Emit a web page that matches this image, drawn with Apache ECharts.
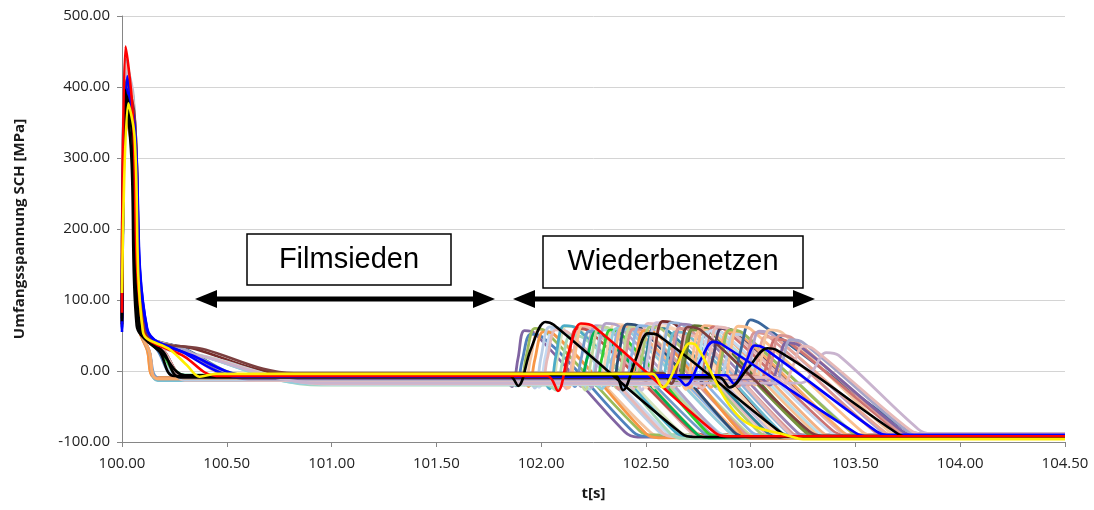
<!DOCTYPE html>
<html>
<head>
<meta charset="utf-8">
<script src="https://cdn.jsdelivr.net/npm/echarts@6/dist/echarts.min.js"></script>
<style>
html,body{margin:0;padding:0;background:#fff;}
#c{width:1094px;height:510px;}
</style>
</head>
<body>
<div id="c"></div>
<script>
// ---- axis ticks ----
const xTicks = [100.0, 100.5, 101.0, 101.5, 102.0, 102.5, 103.0, 103.5, 104.0, 104.5];
const yTicks = [-100, 0, 100, 200, 300, 400, 500];

// ---- curves: [t (s), Umfangsspannung (MPa)] ----
const r01 = [[100,66],[100.015,398],[100.045,352],[100.085,63],[100.13,27],[100.17,-11],[101.82,-11],[101.86,-22],[101.89,18],[101.92,57],[101.97,53],[102.4,-86],[102.46,-93],[104.5,-93]];
const r02 = [[100,72],[100.02,425],[100.05,372],[100.09,60],[100.17,29],[100.26,-8],[101.84,-8],[101.88,-21],[101.91,15],[101.95,52],[102.0,49],[102.44,-86],[102.5,-92],[104.5,-92]];
const r03 = [[100,80],[100.02,380],[100.055,330],[100.1,58],[100.3,31],[100.6,-7],[101.86,-7],[101.9,-18],[101.93,22],[101.97,60],[102.02,56],[102.47,-84],[102.53,-90],[104.5,-90]];
const r04 = [[100,68],[100.015,360],[100.045,318],[100.08,61],[100.12,30],[100.16,-9],[101.9,-9],[101.94,-22],[101.97,16],[102.01,55],[102.06,52],[102.5,-88],[102.56,-94],[104.5,-94]];
const r05 = [[100,75],[100.02,432],[100.05,385],[100.09,61],[100.18,28],[100.28,-12],[101.93,-12],[101.97,-24],[102.0,20],[102.04,62],[102.1,58],[102.56,-85],[102.62,-91],[104.5,-91]];
const r06 = [[100,70],[100.02,415],[100.055,360],[100.1,59],[100.28,30],[100.55,-9],[101.96,-9],[102.0,-20],[102.03,18],[102.07,58],[102.13,54],[102.58,-87],[102.64,-93],[104.5,-93]];
const r07 = [[100,62],[100.015,440],[100.045,392],[100.085,62],[100.13,26],[100.17,-13],[102.0,-13],[102.04,-25],[102.07,20],[102.11,64],[102.17,60],[102.64,-86],[102.7,-92],[104.5,-92]];
const r08 = [[100,78],[100.02,390],[100.05,340],[100.1,57],[100.4,20],[100.95,-20],[102.03,-20],[102.07,-27],[102.1,10],[102.14,50],[102.2,47],[102.62,-89],[102.68,-95],[104.5,-95]];
const r09 = [[100,85],[100.02,405],[100.05,355],[100.09,60],[100.2,27],[100.3,-8],[102.06,-8],[102.1,-20],[102.13,18],[102.17,60],[102.23,56],[102.72,-84],[102.78,-90],[104.5,-90]];
const r10 = [[100,72],[100.02,420],[100.055,370],[100.1,59],[100.3,30],[100.6,-10],[102.09,-10],[102.13,-24],[102.16,20],[102.2,65],[102.26,61],[102.74,-87],[102.8,-93],[104.5,-93]];
const r11 = [[100,64],[100.015,375],[100.045,330],[100.085,62],[100.13,28],[100.18,-10],[102.12,-10],[102.16,-22],[102.19,16],[102.23,56],[102.29,52],[102.77,-86],[102.83,-92],[104.5,-92]];
const r12 = [[100,70],[100.02,385],[100.05,345],[100.09,61],[100.2,25],[100.3,-6],[102.14,-6],[102.18,-18],[102.22,18],[102.26,55],[102.3,50],[102.74,-88],[102.8,-94],[104.5,-94]];
const r13 = [[100,76],[100.02,410],[100.055,365],[100.1,58],[100.3,29],[100.65,-13],[102.17,-13],[102.21,-27],[102.24,18],[102.28,62],[102.34,58],[102.82,-85],[102.88,-91],[104.5,-91]];
const r14 = [[100,68],[100.02,428],[100.05,380],[100.09,60],[100.2,27],[100.3,-11],[102.2,-11],[102.24,-23],[102.27,22],[102.31,67],[102.37,63],[102.84,-87],[102.9,-93],[104.5,-93]];
const r15 = [[100,74],[100.02,400],[100.05,350],[100.09,61],[100.19,26],[100.29,-9],[102.22,-9],[102.26,-20],[102.29,18],[102.33,58],[102.38,53],[102.79,-86],[102.85,-92],[104.5,-92]];
const r16 = [[100,82],[100.02,436],[100.05,388],[100.1,57],[100.42,18],[100.9,-18],[102.25,-18],[102.29,-25],[102.32,16],[102.36,60],[102.42,56],[102.89,-84],[102.95,-90],[104.5,-90]];
const r17 = [[100,70],[100.02,418],[100.055,372],[100.1,59],[100.3,30],[100.6,-11],[102.28,-11],[102.32,-22],[102.35,20],[102.39,63],[102.45,59],[102.94,-88],[103.0,-94],[104.5,-94]];
const r18 = [[100,66],[100.02,395],[100.05,350],[100.09,60],[100.2,28],[100.3,-9],[102.3,-9],[102.34,-20],[102.37,22],[102.41,66],[102.47,62],[102.92,-86],[102.98,-92],[104.5,-92]];
const r19 = [[100,63],[100.015,412],[100.045,366],[100.085,62],[100.13,28],[100.17,-12],[102.33,-12],[102.37,-26],[102.4,16],[102.44,59],[102.5,55],[102.97,-87],[103.03,-93],[104.5,-93]];
const r20 = [[100,78],[100.02,424],[100.055,378],[100.1,58],[100.3,31],[100.62,-10],[102.36,-10],[102.4,-24],[102.43,20],[102.47,64],[102.53,60],[103.0,-85],[103.06,-91],[104.5,-91]];
const r21 = [[100,66],[100.015,368],[100.045,322],[100.08,62],[100.12,30],[100.165,-10],[102.38,-10],[102.42,-20],[102.45,15],[102.49,57],[102.55,53],[102.96,-89],[103.02,-95],[104.5,-95]];
const r22 = [[100,71],[100.02,408],[100.05,362],[100.09,60],[100.2,27],[100.3,-12],[102.41,-12],[102.45,-22],[102.48,18],[102.52,62],[102.58,58],[103.04,-86],[103.1,-92],[104.5,-92]];
const r23 = [[100,74],[100.02,432],[100.055,386],[100.1,59],[100.3,30],[100.6,-13],[102.44,-13],[102.48,-27],[102.51,22],[102.55,68],[102.61,64],[103.09,-84],[103.15,-90],[104.5,-90]];
const r24 = [[100,80],[100.02,402],[100.06,355],[100.11,56],[100.35,31],[100.8,-4],[102.47,-4],[102.51,-20],[102.54,25],[102.58,70],[102.64,66],[103.14,-87],[103.2,-93],[104.5,-93]];
const r25 = [[100,69],[100.02,415],[100.05,368],[100.09,60],[100.2,28],[100.3,-11],[102.5,-11],[102.54,-24],[102.57,18],[102.61,60],[102.67,56],[103.12,-88],[103.18,-94],[104.5,-94]];
const r26 = [[100,64],[100.015,420],[100.045,374],[100.085,62],[100.13,27],[100.17,-12],[102.53,-12],[102.57,-22],[102.6,14],[102.64,55],[102.7,51],[103.14,-85],[103.2,-91],[104.5,-91]];
const r27 = [[100,76],[100.02,398],[100.055,352],[100.1,58],[100.3,29],[100.58,-10],[102.56,-10],[102.6,-25],[102.63,20],[102.67,66],[102.73,62],[103.22,-86],[103.28,-92],[104.5,-92]];
const r28 = [[100,72],[100.02,426],[100.05,380],[100.09,61],[100.2,27],[100.3,-13],[102.59,-13],[102.63,-23],[102.66,12],[102.7,50],[102.76,46],[103.19,-89],[103.25,-95],[104.5,-95]];
const r29 = [[100,68],[100.02,390],[100.05,342],[100.09,60],[100.2,26],[100.3,-8],[102.62,-8],[102.66,-20],[102.69,20],[102.73,64],[102.79,60],[103.27,-87],[103.33,-93],[104.5,-93]];
const r30 = [[100,74],[100.02,410],[100.055,364],[100.1,59],[100.3,30],[100.6,-12],[102.65,-12],[102.69,-26],[102.72,16],[102.76,58],[102.82,54],[103.3,-85],[103.36,-91],[104.5,-91]];
const r31 = [[100,84],[100.02,430],[100.05,384],[100.1,57],[100.45,17],[101.0,-19],[102.68,-19],[102.72,-22],[102.75,14],[102.79,55],[102.85,51],[103.32,-86],[103.38,-92],[104.5,-92]];
const r32 = [[100,70],[100.02,418],[100.05,372],[100.09,60],[100.2,28],[100.3,-10],[102.71,-10],[102.75,-24],[102.78,18],[102.82,62],[102.88,58],[103.39,-84],[103.45,-90],[104.5,-90]];
const r33 = [[100,66],[100.02,386],[100.055,340],[100.1,58],[100.3,30],[100.6,-9],[102.74,-9],[102.78,-20],[102.82,18],[102.86,60],[102.92,56],[103.44,-88],[103.5,-94],[104.5,-94]];
const r34 = [[100,65],[100.015,404],[100.045,358],[100.085,62],[100.13,28],[100.17,-11],[102.77,-11],[102.81,-23],[102.85,16],[102.89,56],[102.95,52],[103.44,-86],[103.5,-92],[104.5,-92]];
const r35 = [[100,73],[100.02,422],[100.05,376],[100.09,60],[100.2,27],[100.3,-12],[102.8,-12],[102.84,-25],[102.88,12],[102.92,52],[102.98,48],[103.49,-87],[103.55,-93],[104.5,-93]];
const r36 = [[100,78],[100.02,412],[100.055,366],[100.1,59],[100.3,31],[100.6,-8],[102.88,-8],[102.91,-15],[102.95,26],[103.0,72],[103.05,66],[103.74,-83],[103.8,-88],[104.5,-88]];
const r37 = [[100,67],[100.02,400],[100.05,354],[100.09,60],[100.2,27],[100.3,-10],[102.9,-10],[102.94,-22],[102.98,14],[103.02,54],[103.08,50],[103.59,-85],[103.65,-91],[104.5,-91]];
const r38 = [[100,75],[100.02,416],[100.055,370],[100.1,59],[100.3,30],[100.6,-9],[102.95,-9],[102.99,-20],[103.03,12],[103.07,48],[103.13,44],[103.64,-86],[103.7,-92],[104.5,-92]];
const r39 = [[100,71],[100.02,394],[100.05,348],[100.09,60],[100.2,28],[100.3,-7],[103.0,-7],[103.04,-18],[103.08,12],[103.12,45],[103.18,41],[103.69,-83],[103.75,-89],[104.5,-89]];
const r40 = [[100,69],[100.02,406],[100.055,360],[100.1,58],[100.3,29],[100.6,-11],[103.05,-11],[103.09,-20],[103.13,8],[103.17,40],[103.23,36],[103.72,-84],[103.78,-90],[104.5,-90]];
const r41 = [[100,80],[100.02,420],[100.05,374],[100.1,57],[100.42,18],[100.95,-17],[103.22,-17],[103.26,-15],[103.3,2],[103.36,26],[103.42,22],[103.8,-82],[103.86,-88],[104.5,-88]];
const r42 = [[100,70],[100.02,410],[100.05,364],[100.09,60],[100.2,27],[100.3,-9],[103.12,-9],[103.16,-18],[103.2,6],[103.25,35],[103.3,31],[103.76,-83],[103.82,-89],[104.5,-89]];
const p01 = [[100,67],[100.015,415],[100.045,368],[100.085,62],[100.13,27],[100.17,-10],[101.88,-10],[101.92,-20],[101.95,18],[101.99,58],[102.05,54],[102.52,-86],[102.58,-92],[104.5,-92]];
const p02 = [[100,73],[100.02,430],[100.05,382],[100.09,60],[100.2,28],[100.3,-11],[101.95,-11],[101.99,-23],[102.02,20],[102.06,60],[102.12,56],[102.6,-87],[102.66,-93],[104.5,-93]];
const p03 = [[100,77],[100.02,412],[100.055,366],[100.1,58],[100.3,30],[100.62,-9],[102.01,-9],[102.05,-22],[102.08,22],[102.12,63],[102.18,59],[102.66,-85],[102.72,-91],[104.5,-91]];
const p04 = [[100,69],[100.02,405],[100.05,360],[100.09,60],[100.2,27],[100.3,-12],[102.08,-12],[102.12,-25],[102.15,18],[102.19,62],[102.25,58],[102.72,-88],[102.78,-94],[104.5,-94]];
const p05 = [[100,64],[100.015,395],[100.045,350],[100.085,62],[100.13,28],[100.17,-11],[102.15,-11],[102.19,-22],[102.22,20],[102.26,64],[102.32,60],[102.8,-86],[102.86,-92],[104.5,-92]];
const p06 = [[100,80],[100.02,425],[100.05,380],[100.1,57],[100.42,18],[100.92,-18],[102.19,-18],[102.23,-26],[102.26,16],[102.3,58],[102.36,54],[102.84,-85],[102.9,-91],[104.5,-91]];
const p07 = [[100,72],[100.02,420],[100.055,374],[100.1,59],[100.3,30],[100.6,-10],[102.24,-10],[102.28,-23],[102.31,22],[102.35,66],[102.41,62],[102.9,-87],[102.96,-93],[104.5,-93]];
const p08 = [[100,70],[100.02,410],[100.05,364],[100.09,60],[100.2,27],[100.3,-9],[102.27,-9],[102.31,-21],[102.34,18],[102.38,61],[102.44,57],[102.92,-86],[102.98,-92],[104.5,-92]];
const p09 = [[100,66],[100.015,402],[100.045,356],[100.085,62],[100.13,27],[100.17,-12],[102.32,-12],[102.36,-24],[102.39,20],[102.43,63],[102.49,59],[102.98,-86],[103.04,-92],[104.5,-92]];
const p10 = [[100,75],[100.02,418],[100.055,372],[100.1,58],[100.3,29],[100.6,-11],[102.4,-11],[102.44,-25],[102.47,24],[102.51,67],[102.57,63],[103.06,-85],[103.12,-91],[104.5,-91]];
const p11 = [[100,68],[100.02,396],[100.05,350],[100.09,60],[100.2,28],[100.3,-8],[102.43,-8],[102.47,-20],[102.5,20],[102.54,62],[102.6,58],[103.08,-87],[103.14,-93],[104.5,-93]];
const p12 = [[100,72],[100.02,422],[100.05,376],[100.09,60],[100.2,27],[100.3,-12],[102.46,-12],[102.5,-24],[102.53,18],[102.57,64],[102.63,60],[103.12,-86],[103.18,-92],[104.5,-92]];
const p13 = [[100,76],[100.02,428],[100.055,380],[100.1,58],[100.3,30],[100.6,-10],[102.51,-10],[102.55,-23],[102.58,22],[102.62,68],[102.68,64],[103.17,-85],[103.23,-91],[104.5,-91]];
const p14 = [[100,65],[100.015,410],[100.045,364],[100.085,62],[100.13,28],[100.17,-11],[102.55,-11],[102.59,-22],[102.62,18],[102.66,60],[102.72,56],[103.2,-88],[103.26,-94],[104.5,-94]];
const p15 = [[100,71],[100.02,400],[100.05,354],[100.09,60],[100.2,27],[100.3,-9],[102.61,-9],[102.65,-20],[102.68,20],[102.72,58],[102.78,54],[103.26,-86],[103.32,-92],[104.5,-92]];
const p16 = [[100,74],[100.02,416],[100.055,370],[100.1,59],[100.3,30],[100.6,-12],[102.67,-12],[102.71,-24],[102.74,20],[102.78,64],[102.84,60],[103.34,-86],[103.4,-92],[104.5,-92]];
const p17 = [[100,69],[100.02,424],[100.05,378],[100.09,60],[100.2,27],[100.3,-11],[102.7,-11],[102.74,-22],[102.77,16],[102.81,57],[102.87,53],[103.38,-86],[103.44,-92],[104.5,-92]];
const p18 = [[100,82],[100.02,432],[100.05,386],[100.1,57],[100.44,17],[100.98,-18],[102.73,-18],[102.77,-24],[102.8,14],[102.84,62],[102.9,58],[103.42,-84],[103.48,-90],[104.5,-90]];
const p19 = [[100,70],[100.02,402],[100.05,356],[100.09,60],[100.2,27],[100.3,-10],[102.79,-10],[102.83,-22],[102.86,16],[102.9,58],[102.96,54],[103.48,-86],[103.54,-92],[104.5,-92]];
const p20 = [[100,73],[100.02,414],[100.055,368],[100.1,58],[100.3,30],[100.6,-11],[102.83,-11],[102.87,-22],[102.9,20],[102.94,63],[103.0,59],[103.53,-85],[103.59,-91],[104.5,-91]];
const p21 = [[100,67],[100.02,408],[100.05,362],[100.09,60],[100.2,28],[100.3,-9],[102.93,-9],[102.97,-20],[103.0,16],[103.04,56],[103.1,52],[103.62,-84],[103.68,-90],[104.5,-90]];
const p22 = [[100,75],[100.02,420],[100.055,374],[100.1,58],[100.3,29],[100.6,-10],[102.98,-10],[103.02,-20],[103.05,16],[103.09,58],[103.15,54],[103.66,-85],[103.72,-91],[104.5,-91]];
const p23 = [[100,70],[100.02,412],[100.05,366],[100.09,60],[100.2,27],[100.3,-8],[103.03,-8],[103.07,-18],[103.1,14],[103.14,50],[103.2,46],[103.7,-83],[103.76,-89],[104.5,-89]];
const p24 = [[100,74],[100.02,404],[100.055,358],[100.1,58],[100.3,30],[100.6,-9],[103.08,-9],[103.12,-18],[103.15,10],[103.19,44],[103.25,40],[103.74,-83],[103.8,-88],[104.5,-88]];
const h8 = [[100,78],[100.02,410],[100.06,360],[100.11,56],[100.4,30],[100.82,-3],[102.58,-3],[102.62,-18],[102.66,20],[102.7,62],[102.76,58],[103.28,-85],[103.34,-91],[104.5,-91]];
const h7 = [[100,60],[100.02,400],[100.06,345],[100.12,60],[100.35,20],[100.6,-6],[102.88,-6],[102.92,-18],[102.98,14],[103.02,36],[103.06,33],[103.6,-85],[103.65,-90],[104.5,-90]];
const h6 = [[100,66],[100.02,390],[100.05,340],[100.09,60],[100.2,26],[100.28,-9],[102.85,-9],[102.9,-23],[102.99,5],[103.08,32],[103.12,30],[103.7,-88],[103.76,-93],[104.5,-93]];
const h5 = [[100,55],[100.025,415],[100.06,340],[100.12,58],[100.3,25],[100.45,0],[100.55,-8],[102.64,-8],[102.69,-20],[102.76,15],[102.82,41],[102.86,38],[103.5,-87],[103.56,-92],[104.5,-92]];
const h3 = [[100,74],[100.02,380],[100.05,330],[100.08,62],[100.2,22],[100.3,-6],[102.35,-6],[102.39,-27],[102.45,15],[102.51,53],[102.56,50],[103.15,-88],[103.21,-93],[104.5,-93]];
const h1 = [[100,70],[100.015,396],[100.045,300],[100.07,64],[100.18,27],[100.25,-7],[101.85,-7],[101.89,-21],[101.95,30],[102.02,69],[102.06,65],[102.67,-88],[102.73,-93],[104.5,-93]];
const h2 = [[100,82],[100.017,457],[100.05,370],[100.1,58],[100.3,20],[100.45,-7],[102.03,-7],[102.08,-28],[102.13,25],[102.19,67],[102.25,63],[102.83,-87],[102.89,-92],[104.5,-92]];
const h4 = [[100,110],[100.03,377],[100.06,330],[100.1,55],[100.23,30],[100.31,8],[100.37,-8],[100.45,-4],[102.53,-4],[102.58,-23],[102.65,10],[102.71,39],[102.74,36],[102.95,-66],[103.2,-93],[103.25,-96],[104.5,-96]];

const curves = [r01,p01,r02,r03,p02,r04,r05,p03,r06,r07,p04,r08,r09,p05,r10,r11,p06,r12,r13,p07,r14,r15,p08,
                r16,r17,p09,r18,r19,p10,r20,r21,p11,r22,r23,p12,r24,r25,p13,r26,r27,p14,r28,r29,p15,r30,r31,
                p16,r32,p17,r33,p18,r34,r35,p19,r36,p20,r37,p21,r38,p22,r39,p23,r40,p24,r41,r42,
                h8,h7,h6,h5,h3,h1,h2,h4];
const curveColors = ['#8064A2','#F2C4A0','#4F81BD','#9BBB59','#C6D9F1','#F79646','#B9CDE5','#D6E3BC','#E6B9B8','#4BACC6',
                     '#E5B8B7','#A6D9B8','#C0504D','#B2A1C7','#FAC090','#729ACA','#A5D5E2','#00B050','#C3D69B','#FBD4B4',
                     '#B3A2C7','#33CC33','#8DB3E2','#93CDDD','#F4B183','#C2D69A','#2C4D75','#D99694','#E4B9C0','#8EB4E3',
                     '#F79646','#31859B','#AFC97A','#CCC1DA','#FDE0C8','#772C2A','#FCD5B5','#95B3D7','#6FBDD1','#9983B5',
                     '#D99795','#E6B9B8','#5F7530','#76923C','#FAC090','#B7DEE8','#F4B183','#CD7371','#C6D9F1','#4D3B62',
                     '#E6B9B8','#F9AB6B','#B9CDE5','#9BBB59','#3A679C','#FAC090','#D99694','#B3A2C7','#E8A798','#F2C4A0',
                     '#CD7371','#D99694','#8064A2','#A5A5C8','#C9B4CF','#E6B9B8',
                     '#7B3F3F','#0000FF','#000000','#0000FF','#000000','#000000','#FF0000','#FFEE00'];
const nHighlight = 8;

const chart = echarts.init(document.getElementById('c'), null, {renderer:'canvas'});
const FONT = '"Open Sans", "DejaVu Sans", sans-serif';

const series = curves.map((pts, i) => ({
  type: 'line',
  name: 'Kurve ' + (i + 1),
  data: pts,
  showSymbol: false,
  symbol: 'none',
  smooth: 0.35,
  silent: true,
  lineStyle: { color: curveColors[i], width: i >= curves.length - nHighlight ? 2.6 : 2.8 },
  z: 2
}));

const option = {
  animation: false,
  backgroundColor: '#fff',
  grid: { left: 122, right: 29, top: 16, bottom: 68 },
  xAxis: {
    type: 'value',
    min: xTicks[0], max: xTicks[xTicks.length - 1], interval: 0.5,
    name: 't[s]', nameLocation: 'middle', nameGap: 44,
    nameTextStyle: { fontFamily: FONT, fontWeight: 'bold', fontSize: 15, color: '#1a1a1a' },
    axisLine: { show: true, onZero: false, lineStyle: { color: '#868686', width: 1 } },
    axisTick: { show: true, length: 5, lineStyle: { color: '#868686' } },
    splitLine: { show: false },
    axisLabel: { formatter: v => v.toFixed(2), fontFamily: FONT, fontSize: 15, color: '#222', margin: 14 }
  },
  yAxis: {
    type: 'value',
    min: yTicks[0], max: yTicks[yTicks.length - 1], interval: 100,
    name: 'Umfangsspannung SCH [MPa]', nameLocation: 'middle', nameGap: 95,
    nameTextStyle: { fontFamily: FONT, fontWeight: 'bold', fontSize: 15, color: '#1a1a1a' },
    axisLine: { show: true, lineStyle: { color: '#868686', width: 1 } },
    axisTick: { show: true, length: 5, lineStyle: { color: '#868686' } },
    splitLine: { show: true, lineStyle: { color: '#D4D4D4', width: 1 } },
    axisLabel: { formatter: v => v.toFixed(2), fontFamily: FONT, fontSize: 15, color: '#222', margin: 12 }
  },
  series: series,
  graphic: [
    { type: 'rect', shape: { x: 247, y: 234, width: 204, height: 51 }, style: { fill: '#fff', stroke: '#000', lineWidth: 1.5 }, z: 100 },
    { type: 'text', x: 349, y: 260, style: { text: 'Filmsieden', font: '29px "Liberation Sans", Arial, sans-serif', fill: '#000', align: 'center', verticalAlign: 'middle' }, z: 101 },
    { type: 'rect', shape: { x: 543, y: 236, width: 260, height: 52 }, style: { fill: '#fff', stroke: '#000', lineWidth: 1.5 }, z: 100 },
    { type: 'text', x: 673, y: 262, style: { text: 'Wiederbenetzen', font: '29px "Liberation Sans", Arial, sans-serif', fill: '#000', align: 'center', verticalAlign: 'middle' }, z: 101 },
    { type: 'line', shape: { x1: 212, y1: 299, x2: 478, y2: 299 }, style: { stroke: '#000', lineWidth: 5 }, z: 100 },
    { type: 'polygon', shape: { points: [[195,299],[217,290],[217,308]] }, style: { fill: '#000' }, z: 100 },
    { type: 'polygon', shape: { points: [[495,299],[473,290],[473,308]] }, style: { fill: '#000' }, z: 100 },
    { type: 'line', shape: { x1: 530, y1: 299, x2: 798, y2: 299 }, style: { stroke: '#000', lineWidth: 5 }, z: 100 },
    { type: 'polygon', shape: { points: [[513,299],[535,290],[535,308]] }, style: { fill: '#000' }, z: 100 },
    { type: 'polygon', shape: { points: [[815,299],[793,290],[793,308]] }, style: { fill: '#000' }, z: 100 }
  ]
};
chart.setOption(option);
</script>
</body>
</html>
